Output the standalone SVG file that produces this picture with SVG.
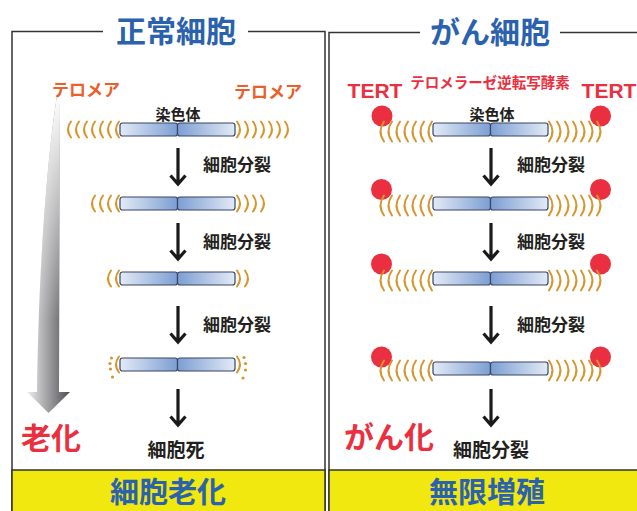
<svg xmlns="http://www.w3.org/2000/svg" xmlns:xlink="http://www.w3.org/1999/xlink" width="637" height="511" viewBox="0 0 637 511">
  <style>
    .jp { font-family: "Noto Sans CJK JP", "Noto Sans", sans-serif; font-weight: bold; }
    .title { font-size: 30px; fill: #2b62ad; }
    .foot { font-size: 29px; fill: #2b62ad; }
    .step { font-size: 17px; fill: #231f20; }
    .result { font-size: 19px; fill: #231f20; }
    .frame { fill: none; stroke: #333; stroke-width: 1.5; }
    .band { fill: #f1e810; stroke: #333; stroke-width: 1.5; }
    .arc { fill: none; stroke: #d6962e; stroke-width: 2; stroke-linecap: round; }
    .dot { fill: #d6962e; }
    .arrow { fill: none; stroke: #1a1a1a; stroke-width: 3.2; }
    .tert { fill: #ea3040; }
    .half { stroke: #3a4566; stroke-width: 1.2; }
  </style>
  <defs>
    <linearGradient id="gL" x1="0" y1="0" x2="1" y2="0">
      <stop offset="0" stop-color="#e3eaf6"/>
      <stop offset="1" stop-color="#7c9ed2"/>
    </linearGradient>
    <linearGradient id="gR" x1="0" y1="0" x2="1" y2="0">
      <stop offset="0" stop-color="#7c9ed2"/>
      <stop offset="1" stop-color="#e3eaf6"/>
    </linearGradient>
    <linearGradient id="agingH" gradientUnits="userSpaceOnUse" x1="27" y1="0" x2="70" y2="0">
      <stop offset="0" stop-color="#eeeef0"/>
      <stop offset="1" stop-color="#4e4e52"/>
    </linearGradient>
    <linearGradient id="agingV" gradientUnits="userSpaceOnUse" x1="0" y1="95" x2="0" y2="320">
      <stop offset="0" stop-color="#fff" stop-opacity="1"/>
      <stop offset="1" stop-color="#fff" stop-opacity="0"/>
    </linearGradient>
    <!-- chromosome: two halves meeting at the centromere -->
    <g id="chromo">
      <rect class="half" x="0" y="0" width="57.5" height="13" rx="2.5" fill="url(#gL)"/>
      <rect class="half" x="57.5" y="0" width="57.5" height="13" rx="2.5" fill="url(#gR)"/>
    </g>
    <path id="aL" class="arc" d="M0,-8 Q-6,0 0,8"/>
    <path id="aR" class="arc" d="M0,-8 Q6,0 0,8"/>
    <path id="bL" class="arc" d="M0,-9 Q-7,1 0,11"/>
    <path id="bR" class="arc" d="M0,-9 Q7,1 0,11"/>
    <path id="down" class="arrow" d="M0,0 V36 M-7.5,27.5 L0,36 L7.5,27.5"/>
  </defs>

  <!-- left panel: normal cell -->
  <g id="panel-normal">
    <path class="frame" d="M103,31.5 H12 V511 M248,31.5 H325 V511"/>
    <text class="jp title" x="176" y="29" text-anchor="middle" dominant-baseline="central">正常細胞</text>
    <rect class="band" x="12" y="470" width="313" height="45"/>
    <text class="jp foot" x="168" y="490" text-anchor="middle" dominant-baseline="central">細胞老化</text>
  </g>

  <!-- right panel: cancer cell -->
  <g id="panel-cancer">
    <path class="frame" d="M420,32.5 H329 V511 M560,32.5 H640"/>
    <text class="jp title" x="490" y="30" text-anchor="middle" dominant-baseline="central">がん細胞</text>
    <rect class="band" x="329" y="470" width="312" height="45"/>
    <text class="jp foot" x="487" y="490" text-anchor="middle" dominant-baseline="central">無限増殖</text>
  </g>

  <!-- ageing arrow -->
  <g id="aging-arrow">
    <path d="M57,95 L60,95 L59,392 L70,392 L48.5,413 L27,392 L37,392 C38,300 44,180 57,95 Z" fill="url(#agingH)"/>
    <path d="M57,95 L60,95 L59,392 L37,392 C38,300 44,180 57,95 Z" fill="url(#agingV)"/>
  </g>
  <g id="label-aging">
    <text class="jp" x="51" y="436" font-size="30" fill="#ea3040" text-anchor="middle" dominant-baseline="central">老化</text>
  </g>

  <!-- telomere labels -->
  <g id="telomere-labels" class="jp" font-size="17" fill="#e8602a">
    <text x="86" y="88" text-anchor="middle" dominant-baseline="central">テロメア</text>
    <text x="268" y="90" text-anchor="middle" dominant-baseline="central">テロメア</text>
  </g>
  <g id="tert-labels">
    <text x="375" y="90" font-family="Liberation Sans, Arial, sans-serif" font-weight="bold" font-size="21" fill="#ea3040" text-anchor="middle" dominant-baseline="central">TERT</text>
    <text x="609" y="90" font-family="Liberation Sans, Arial, sans-serif" font-weight="bold" font-size="21" fill="#ea3040" text-anchor="middle" dominant-baseline="central">TERT</text>
    <text class="jp" x="490" y="81" font-size="14.5" fill="#ea3040" text-anchor="middle" dominant-baseline="central">テロメラーゼ逆転写酵素</text>
  </g>

  <!-- normal cell chromosomes, telomeres shortening -->
  <g id="normal-1">
    <text class="jp" x="178" y="113" font-size="15" fill="#231f20" text-anchor="middle" dominant-baseline="central">染色体</text>
    <use xlink:href="#chromo" x="120" y="123"/>
    <use xlink:href="#aL" x="71" y="129.5"/><use xlink:href="#aL" x="79" y="129.5"/><use xlink:href="#aL" x="87" y="129.5"/><use xlink:href="#aL" x="95" y="129.5"/><use xlink:href="#aL" x="103" y="129.5"/><use xlink:href="#aL" x="111" y="129.5"/><use xlink:href="#aL" x="119" y="129.5"/>
    <use xlink:href="#aR" x="237" y="129.5"/><use xlink:href="#aR" x="245" y="129.5"/><use xlink:href="#aR" x="253" y="129.5"/><use xlink:href="#aR" x="261" y="129.5"/><use xlink:href="#aR" x="269" y="129.5"/><use xlink:href="#aR" x="277" y="129.5"/><use xlink:href="#aR" x="285" y="129.5"/>
  </g>
  <g id="normal-2">
    <use xlink:href="#chromo" x="120" y="197"/>
    <use xlink:href="#aL" x="95" y="203.5"/><use xlink:href="#aL" x="103" y="203.5"/><use xlink:href="#aL" x="111" y="203.5"/><use xlink:href="#aL" x="119" y="203.5"/>
    <use xlink:href="#aR" x="237" y="203.5"/><use xlink:href="#aR" x="245" y="203.5"/><use xlink:href="#aR" x="253" y="203.5"/><use xlink:href="#aR" x="261" y="203.5"/>
  </g>
  <g id="normal-3">
    <use xlink:href="#chromo" x="120" y="272"/>
    <use xlink:href="#aL" x="111" y="278.5"/><use xlink:href="#aL" x="119" y="278.5"/>
    <use xlink:href="#aR" x="237" y="278.5"/><use xlink:href="#aR" x="245" y="278.5"/>
  </g>
  <g id="normal-4">
    <use xlink:href="#chromo" x="120" y="358"/>
    <use xlink:href="#aL" x="119" y="364.5"/>
    <use xlink:href="#aR" x="237" y="364.5"/>
    <circle class="dot" cx="111.5" cy="358" r="1.6"/><circle class="dot" cx="110" cy="363.5" r="1.6"/><circle class="dot" cx="110.5" cy="369" r="1.6"/><circle class="dot" cx="112.5" cy="377" r="1.6"/>
    <circle class="dot" cx="244" cy="357.5" r="1.6"/><circle class="dot" cx="245.5" cy="363.5" r="1.6"/><circle class="dot" cx="245.5" cy="370" r="1.6"/><circle class="dot" cx="243" cy="378" r="1.6"/>
  </g>
  <g id="normal-death">
    <text class="jp result" x="176" y="448" text-anchor="middle" dominant-baseline="central">細胞死</text>
  </g>

  <!-- cancer cell chromosomes, telomeres maintained by TERT -->
  <g id="cancer-1">
    <text class="jp" x="492" y="113" font-size="15" fill="#231f20" text-anchor="middle" dominant-baseline="central">染色体</text>
    <circle class="tert" cx="382" cy="116" r="10.5"/><circle class="tert" cx="600.5" cy="116" r="10.5"/>
    <use xlink:href="#chromo" x="433" y="123"/>
    <use xlink:href="#bL" x="384" y="130.5"/><use xlink:href="#bL" x="392" y="130.5"/><use xlink:href="#bL" x="400" y="130.5"/><use xlink:href="#bL" x="408" y="130.5"/><use xlink:href="#bL" x="416" y="130.5"/><use xlink:href="#bL" x="424" y="130.5"/><use xlink:href="#bL" x="432" y="130.5"/>
    <use xlink:href="#bR" x="549" y="130.5"/><use xlink:href="#bR" x="557" y="130.5"/><use xlink:href="#bR" x="565" y="130.5"/><use xlink:href="#bR" x="573" y="130.5"/><use xlink:href="#bR" x="581" y="130.5"/><use xlink:href="#bR" x="589" y="130.5"/><use xlink:href="#bR" x="597" y="130.5"/>
  </g>
  <g id="cancer-2">
    <circle class="tert" cx="381.5" cy="189.5" r="10.5"/><circle class="tert" cx="600.5" cy="189.5" r="10.5"/>
    <use xlink:href="#chromo" x="433" y="197"/>
    <use xlink:href="#bL" x="384" y="204.5"/><use xlink:href="#bL" x="392" y="204.5"/><use xlink:href="#bL" x="400" y="204.5"/><use xlink:href="#bL" x="408" y="204.5"/><use xlink:href="#bL" x="416" y="204.5"/><use xlink:href="#bL" x="424" y="204.5"/><use xlink:href="#bL" x="432" y="204.5"/>
    <use xlink:href="#bR" x="549" y="204.5"/><use xlink:href="#bR" x="557" y="204.5"/><use xlink:href="#bR" x="565" y="204.5"/><use xlink:href="#bR" x="573" y="204.5"/><use xlink:href="#bR" x="581" y="204.5"/><use xlink:href="#bR" x="589" y="204.5"/><use xlink:href="#bR" x="597" y="204.5"/>
  </g>
  <g id="cancer-3">
    <circle class="tert" cx="381.5" cy="264" r="10.5"/><circle class="tert" cx="600.5" cy="264" r="10.5"/>
    <use xlink:href="#chromo" x="433" y="272"/>
    <use xlink:href="#bL" x="384" y="279.5"/><use xlink:href="#bL" x="392" y="279.5"/><use xlink:href="#bL" x="400" y="279.5"/><use xlink:href="#bL" x="408" y="279.5"/><use xlink:href="#bL" x="416" y="279.5"/><use xlink:href="#bL" x="424" y="279.5"/><use xlink:href="#bL" x="432" y="279.5"/>
    <use xlink:href="#bR" x="549" y="279.5"/><use xlink:href="#bR" x="557" y="279.5"/><use xlink:href="#bR" x="565" y="279.5"/><use xlink:href="#bR" x="573" y="279.5"/><use xlink:href="#bR" x="581" y="279.5"/><use xlink:href="#bR" x="589" y="279.5"/><use xlink:href="#bR" x="597" y="279.5"/>
  </g>
  <g id="cancer-4">
    <circle class="tert" cx="381.5" cy="357" r="10.5"/><circle class="tert" cx="600.5" cy="357" r="10.5"/>
    <use xlink:href="#chromo" x="433" y="362"/>
    <use xlink:href="#bL" x="384" y="369.5"/><use xlink:href="#bL" x="392" y="369.5"/><use xlink:href="#bL" x="400" y="369.5"/><use xlink:href="#bL" x="408" y="369.5"/><use xlink:href="#bL" x="416" y="369.5"/><use xlink:href="#bL" x="424" y="369.5"/><use xlink:href="#bL" x="432" y="369.5"/>
    <use xlink:href="#bR" x="549" y="369.5"/><use xlink:href="#bR" x="557" y="369.5"/><use xlink:href="#bR" x="565" y="369.5"/><use xlink:href="#bR" x="573" y="369.5"/><use xlink:href="#bR" x="581" y="369.5"/><use xlink:href="#bR" x="589" y="369.5"/><use xlink:href="#bR" x="597" y="369.5"/>
  </g>
  <g id="cancer-result">
    <text class="jp" x="389" y="435" font-size="30" fill="#ea3040" text-anchor="middle" dominant-baseline="central">がん化</text>
    <text class="jp result" x="491" y="448" text-anchor="middle" dominant-baseline="central">細胞分裂</text>
  </g>

  <!-- division arrows and labels -->
  <g id="connectors">
    <use xlink:href="#down" x="178" y="148"/>
    <use xlink:href="#down" x="178" y="223"/>
    <use xlink:href="#down" x="178" y="306"/>
    <use xlink:href="#down" x="178" y="389"/>
    <use xlink:href="#down" x="491" y="148"/>
    <use xlink:href="#down" x="491" y="223"/>
    <use xlink:href="#down" x="491" y="306"/>
    <use xlink:href="#down" x="491" y="389"/>
    <g class="jp step">
      <text x="203" y="163" dominant-baseline="central">細胞分裂</text>
      <text x="203" y="240" dominant-baseline="central">細胞分裂</text>
      <text x="203" y="323" dominant-baseline="central">細胞分裂</text>
      <text x="517" y="163" dominant-baseline="central">細胞分裂</text>
      <text x="517" y="240" dominant-baseline="central">細胞分裂</text>
      <text x="517" y="323" dominant-baseline="central">細胞分裂</text>
    </g>
  </g>
</svg>
